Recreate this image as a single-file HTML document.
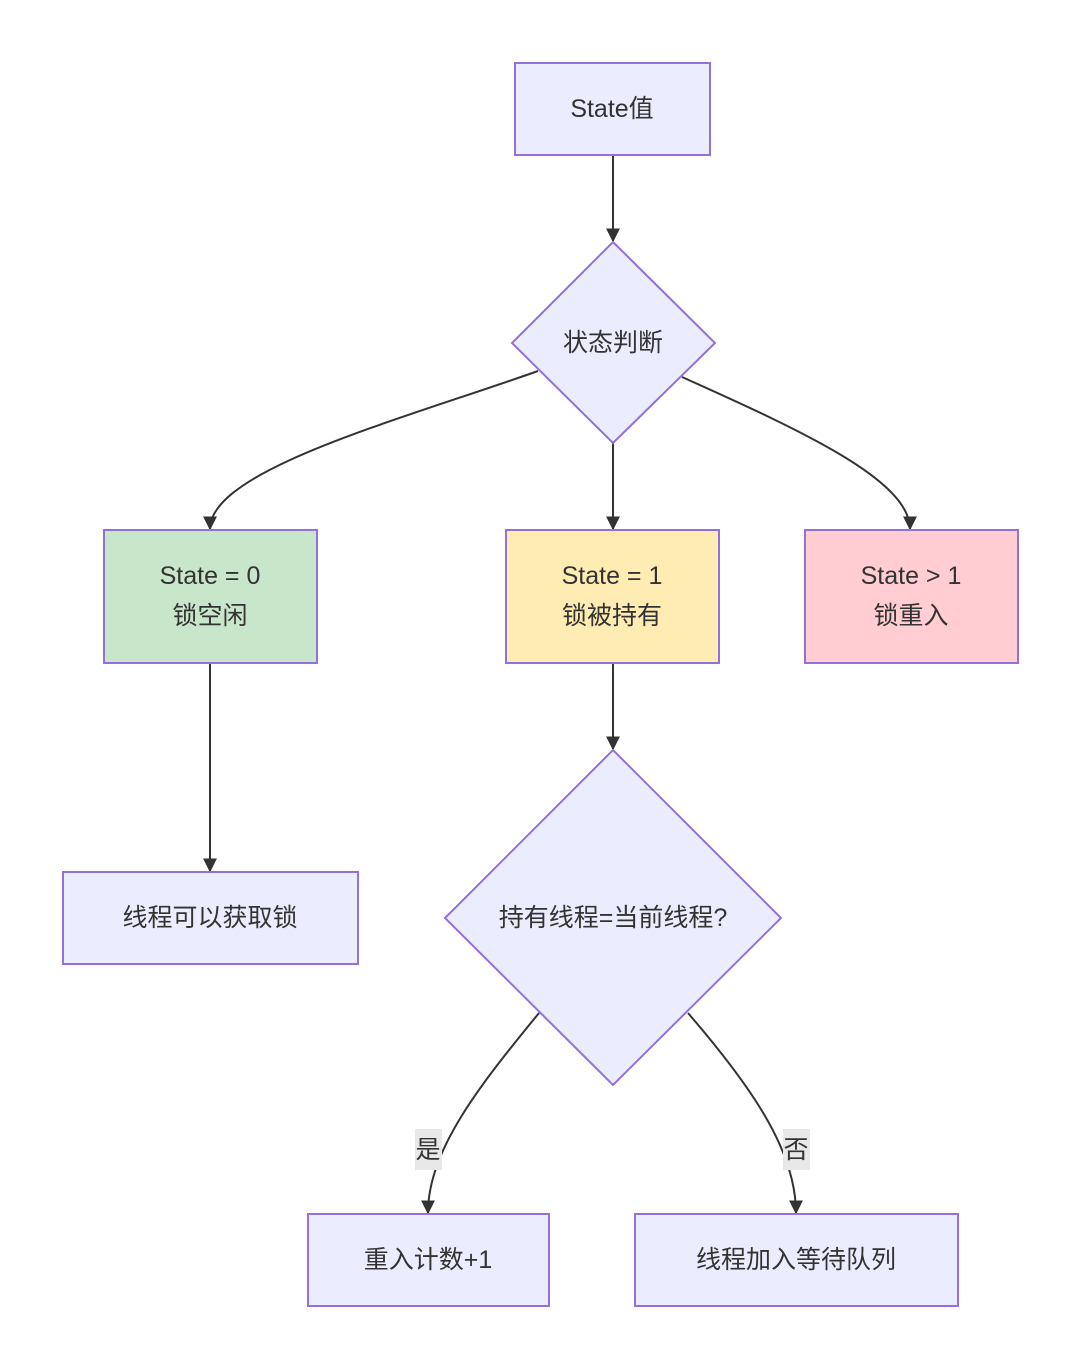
<!DOCTYPE html>
<html><head><meta charset="utf-8"><style>
html,body{margin:0;padding:0;background:#fff;}
svg{display:block;}
text{font-family:"Liberation Sans","Noto Sans CJK SC",sans-serif;font-size:25px;fill:#333;text-anchor:middle;dominant-baseline:central;}
</style></head><body>
<svg width="1080" height="1369" viewBox="0 0 1080 1369" xmlns="http://www.w3.org/2000/svg">
<defs><marker id="a" viewBox="0 0 10 10" refX="9" refY="5" markerWidth="7" markerHeight="7" orient="auto"><path d="M0,0L10,5L0,10z" fill="#333"/></marker></defs>
<g fill="none" stroke="#333" stroke-width="2">
<path d="M613,155 L613,241" marker-end="url(#a)"/>
<path d="M538,371 C400,420 210,470 210,529" marker-end="url(#a)"/>
<path d="M613,443 L613,529" marker-end="url(#a)"/>
<path d="M682,377 C800,430 910,480 910,529" marker-end="url(#a)"/>
<path d="M210,663 L210,871" marker-end="url(#a)"/>
<path d="M613,663 L613,749" marker-end="url(#a)"/>
<path d="M539,1013 C480,1085 428,1150 428,1213" marker-end="url(#a)"/>
<path d="M688,1013 C750,1085 796,1150 796,1213" marker-end="url(#a)"/>
</g>
<g stroke="#9370DB" stroke-width="2">
<rect x="515" y="63" width="195" height="92" fill="#ECECFF"/>
<polygon points="613,242 715,343 613,443 512,343" fill="#ECECFF"/>
<rect x="104" y="530" width="213" height="133" fill="#C8E6C9"/>
<rect x="506" y="530" width="213" height="133" fill="#FFECB3"/>
<rect x="805" y="530" width="213" height="133" fill="#FFCDD2"/>
<rect x="63" y="872" width="295" height="92" fill="#ECECFF"/>
<polygon points="613,750 781,918 613,1085 445,918" fill="#ECECFF"/>
<rect x="308" y="1214" width="241" height="92" fill="#ECECFF"/>
<rect x="635" y="1214" width="323" height="92" fill="#ECECFF"/>
</g>
<rect x="415" y="1129" width="27" height="41" fill="#e8e8e8"/>
<rect x="783" y="1129" width="27" height="41" fill="#e8e8e8"/>
<text x="612" y="109">State值</text>
<text x="613" y="343">状态判断</text>
<text x="210" y="576">State = 0</text><text x="210" y="616">锁空闲</text>
<text x="612" y="576">State = 1</text><text x="612" y="616">锁被持有</text>
<text x="911" y="576">State &gt; 1</text><text x="911" y="616">锁重入</text>
<text x="210" y="918">线程可以获取锁</text>
<text x="613" y="918">持有线程=当前线程?</text>
<text x="428" y="1150">是</text>
<text x="796" y="1150">否</text>
<text x="428" y="1260">重入计数+1</text>
<text x="796" y="1260">线程加入等待队列</text>
</svg>
</body></html>
